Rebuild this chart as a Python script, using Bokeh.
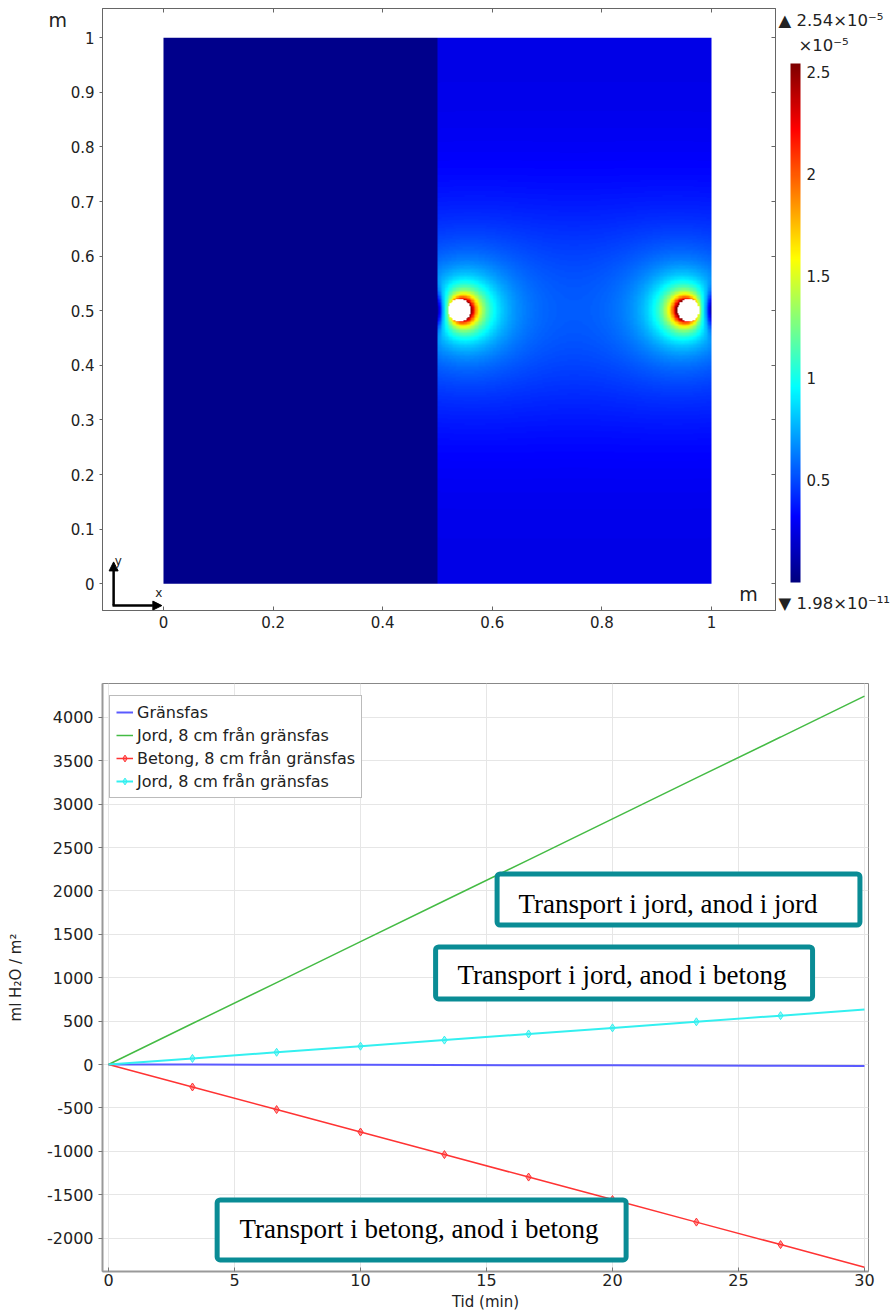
import numpy as np
from bokeh.plotting import figure
from bokeh.models import (LinearColorMapper, ColorBar, FixedTicker, CustomJSTickFormatter,
                          Label, Arrow, NormalHead, BoxAnnotation, LinearAxis, Legend, LegendItem,
                          ColumnDataSource, Range1d)
from bokeh.layouts import column
from bokeh.embed import file_html
from bokeh.resources import INLINE

# ---------------- data: field plot ----------------
interface_x = 0.5
anode_x = [0.540, 0.958]
anode_y = [0.5, 0.5]
anode_dir = [0.0, np.pi]      # side facing the other anode
anode_radius = 0.02
left_level = 0.03             # x 1e-5
right_base = 0.26
right_bump = 0.22
halo_amp = 1.8
halo_decay = 0.1
halo_asym = 0.3
cbar_min = 1.98e-11 * 1e5
cbar_max = 2.54
cbar_ticks = [0.5, 1, 1.5, 2, 2.5]
field_xticks = [0, 0.2, 0.4, 0.6, 0.8, 1]
field_yticks = [0, 0.1, 0.2, 0.3, 0.4, 0.5, 0.6, 0.7, 0.8, 0.9, 1]
cbar_max_text = "▲ 2.54×10⁻⁵"
cbar_unit_text = "×10⁻⁵"
cbar_min_text = "▼ 1.98×10⁻¹¹"

# ---------------- data: time series ----------------
time_min = [0, 3.33, 6.67, 10, 13.33, 16.67, 20, 23.33, 26.67, 30]
gransfas = [0, -1, -3, -4, -6, -8, -10, -12, -15, -18]
jord_anod_jord = [0, 472, 944, 1415, 1887, 2358, 2830, 3302, 3773, 4245]
betong_anod_betong = [0, -259, -519, -778, -1038, -1297, -1556, -1816, -2075, -2335]
jord_anod_betong = [0, 70, 141, 211, 281, 352, 422, 492, 563, 633]
series_names = ["Gränsfas", "Jord, 8 cm från gränsfas", "Betong, 8 cm från gränsfas", "Jord, 8 cm från gränsfas"]
ts_xticks = [0, 5, 10, 15, 20, 25, 30]
ts_yticks = [-2000, -1500, -1000, -500, 0, 500, 1000, 1500, 2000, 2500, 3000, 3500, 4000]
box_texts = ["Transport i jord, anod i jord", "Transport i jord, anod i betong", "Transport i betong, anod i betong"]

FONT = "DejaVu Sans"
TXT = "#222222"


def jet_palette(n=256):
    cols = []
    for i in range(n):
        t = i / (n - 1)
        r = min(max(1.5 - abs(4 * t - 3), 0), 1)
        g = min(max(1.5 - abs(4 * t - 2), 0), 1)
        b = min(max(1.5 - abs(4 * t - 1), 0), 1)
        cols.append("#%02x%02x%02x" % (int(r * 255), int(g * 255), int(b * 255)))
    return cols


# field
n = 400
xs = (np.arange(n) + 0.5) / n
ys = (np.arange(n) + 0.5) / n
X, Y = np.meshgrid(xs, ys)
V = np.full_like(X, left_level)
base = right_base + right_bump * np.exp(-((Y - 0.5) / 0.22) ** 2)
halo = np.zeros_like(X)
holes = np.zeros_like(X, dtype=bool)
for cx, cy, phi in zip(anode_x, anode_y, anode_dir):
    r = np.hypot(X - cx, Y - cy)
    th = np.arctan2(Y - cy, X - cx)
    rr = np.maximum(r, anode_radius)
    halo += halo_amp * (anode_radius / rr) * np.exp(-(rr - anode_radius) / halo_decay) * (1 + halo_asym * np.cos(th - phi))
    holes |= r < anode_radius
notch = (1 - np.exp(-np.maximum(X - interface_x, 0) / 0.012) * np.exp(-((Y - 0.5) / 0.035) ** 2)) * \
        (1 - np.exp(-np.maximum(1 - X, 0) / 0.012) * np.exp(-((Y - 0.5) / 0.035) ** 2))
right = X >= interface_x
V = np.where(right, (base + halo) * notch, V)
V = np.clip(V, cbar_min, cbar_max)
V[holes] = np.nan
V = V.astype(np.float32)

mapper = LinearColorMapper(palette=jet_palette(), low=cbar_min, high=cbar_max, nan_color="white")

p1 = figure(frame_width=673, frame_height=602, x_range=Range1d(-0.1113, 1.1168), y_range=Range1d(-0.049, 1.0536),
            output_backend="svg", toolbar_location=None,
            min_border_left=102, min_border_right=120, min_border_top=8, min_border_bottom=40)
p1.image(image=[V], x=0, y=0, dw=1, dh=1, color_mapper=mapper)
p1.grid.visible = False
p1.outline_line_color = "#666666"
fmt = CustomJSTickFormatter(code="return String(tick);")
for ax in (p1.xaxis[0], p1.yaxis[0]):
    ax.formatter = fmt
    ax.major_label_text_font = FONT
    ax.major_label_text_font_size = "15px"
    ax.major_label_text_color = TXT
    ax.axis_line_color = "#666666"
    ax.major_tick_line_color = "#666666"
    ax.minor_tick_line_color = None
p1.xaxis[0].ticker = FixedTicker(ticks=field_xticks)
p1.yaxis[0].ticker = FixedTicker(ticks=field_yticks)
p1.xaxis[0].major_tick_in = 4
p1.xaxis[0].major_tick_out = 0
p1.yaxis[0].major_tick_in = 0
p1.yaxis[0].major_tick_out = 3
for loc, ticks in (("above", field_xticks), ("right", field_yticks)):
    a = LinearAxis(ticker=FixedTicker(ticks=ticks), major_label_text_font_size="0px",
                   major_tick_in=4, major_tick_out=0, minor_tick_line_color=None,
                   axis_line_color="#666666", major_tick_line_color="#666666")
    p1.add_layout(a, loc)

cbar = ColorBar(color_mapper=mapper, ticker=FixedTicker(ticks=cbar_ticks), formatter=fmt,
                width=10, height=519, padding=0, location=(688, 28), major_tick_line_color=None,
                major_label_text_font=FONT, major_label_text_font_size="15px", major_label_text_color=TXT,
                label_standoff=6, bar_line_color=None, border_line_color=None, background_fill_alpha=0,
                orientation="vertical")
p1.add_layout(cbar, "center")


def text_host(x, y, text, size):
    # a colour bar with an invisible 1px bar, used only to carry a title outside the frame
    return ColorBar(color_mapper=mapper, ticker=FixedTicker(ticks=[]), width=1, height=1, padding=0,
                    orientation="horizontal",
                    location=(x, y), scale_alpha=0, major_tick_line_color=None, minor_tick_line_color=None,
                    major_label_text_font_size="0px", bar_line_color=None, border_line_color=None,
                    background_fill_alpha=0, title=text, title_standoff=0, title_text_font=FONT,
                    title_text_font_size=size, title_text_font_style="normal", title_text_color=TXT)


p1.add_layout(text_host(-54, 579, "m", "19px"), "center")
p1.add_layout(text_host(676, 580, cbar_max_text, "16.5px"), "center")
p1.add_layout(text_host(696, 555, cbar_unit_text, "16.5px"), "center")
p1.add_layout(text_host(676, -3, cbar_min_text, "16.5px"), "center")

lbl_kw = dict(text_font=FONT, text_color=TXT, text_baseline="middle")
p1.add_layout(Label(x=1.0675, y=-0.018, text="m", text_font_size="19px", text_align="center", **lbl_kw))
p1.add_layout(Arrow(end=NormalHead(size=9, fill_color="black", line_color="black"),
                    x_start=-0.091, y_start=-0.040, x_end=-0.091, y_end=0.040, line_width=2.5, line_color="black"))
p1.add_layout(Arrow(end=NormalHead(size=9, fill_color="black", line_color="black"),
                    x_start=-0.093, y_start=-0.040, x_end=-0.003, y_end=-0.040, line_width=2.5, line_color="black"))
p1.add_layout(Label(x=-0.089, y=0.042, text="y", text_font_size="12px", text_align="left", **lbl_kw))
p1.add_layout(Label(x=-0.015, y=-0.017, text="x", text_font_size="12px", text_align="left", **lbl_kw))

# ---------------- time series plot ----------------
p2 = figure(frame_width=766, frame_height=588, x_range=Range1d(-0.24, 30.16), y_range=Range1d(-2385, 4390),
            output_backend="svg", toolbar_location=None,
            min_border_left=102, min_border_right=27, min_border_top=33, min_border_bottom=40)
src = ColumnDataSource(dict(t=time_min, g=gransfas, jj=jord_anod_jord, bb=betong_anod_betong, jb=jord_anod_betong))
msrc = ColumnDataSource(dict(t=time_min[1:-1], bb=betong_anod_betong[1:-1], jb=jord_anod_betong[1:-1]))

r_g = p2.line("t", "g", source=src, line_color="#5a5aff", line_width=2)
r_jj = p2.line("t", "jj", source=src, line_color="#44bb44", line_width=1.5)
r_bb = p2.line("t", "bb", source=src, line_color="#ff3333", line_width=1.5)
m_bb = p2.scatter("t", "bb", source=msrc, marker="diamond", size=8, fill_color="#ff3333", fill_alpha=0.5,
                  line_color="#ff3333")
r_jb = p2.line("t", "jb", source=src, line_color="#33f0f0", line_width=2)
m_jb = p2.scatter("t", "jb", source=msrc, marker="diamond", size=8, fill_color="#33f0f0", fill_alpha=0.5,
                  line_color="#33f0f0")

legend = Legend(items=[LegendItem(label=series_names[0], renderers=[r_g]),
                       LegendItem(label=series_names[1], renderers=[r_jj]),
                       LegendItem(label=series_names[2], renderers=[r_bb, m_bb]),
                       LegendItem(label=series_names[3], renderers=[r_jb, m_jb])],
                location=(7, 473), label_text_font=FONT, label_text_font_size="16px", label_text_color=TXT,
                glyph_width=17, glyph_height=20, label_height=20, spacing=3, label_standoff=4,
                padding=6, margin=0, border_line_color="#777777", border_line_width=1.5,
                background_fill_color="white", background_fill_alpha=1)
p2.add_layout(legend, "center")

p2.xaxis.ticker = FixedTicker(ticks=ts_xticks)
p2.yaxis.ticker = FixedTicker(ticks=ts_yticks)
p2.grid.grid_line_color = "#e6e6e6"
p2.outline_line_color = "#888888"
for ax in (p2.xaxis[0], p2.yaxis[0]):
    ax.formatter = fmt
    ax.major_label_text_font = FONT
    ax.major_label_text_font_size = "16px"
    ax.major_label_text_color = TXT
    ax.axis_label_text_font = FONT
    ax.axis_label_text_font_size = "15px"
    ax.axis_label_text_font_style = "normal"
    ax.axis_label_text_color = TXT
    ax.axis_line_color = "#999999"
    ax.axis_line_width = 2
    ax.major_tick_line_color = "#777777"
    ax.minor_tick_line_color = None
p2.xaxis[0].axis_label = "Tid (min)"
p2.yaxis[0].axis_label = "ml H₂O / m²"
p2.xaxis[0].major_tick_in = 4
p2.xaxis[0].major_tick_out = 0
p2.xaxis[0].major_label_standoff = 2
p2.xaxis[0].axis_label_standoff = 4
p2.yaxis[0].major_tick_in = 0
p2.yaxis[0].major_tick_out = 4
p2.yaxis[0].axis_label_standoff = 19

teal = "#0a8c95"
boxes = [(15.42, 29.82, 2195, 1607), (12.98, 27.94, 1354, 755), (4.31, 20.54, -1561, -2252)]
text_pos = [(16.27, 1845), (13.85, 1027), (5.20, -1900)]
for (l, r, t, b), (tx, ty), txt in zip(boxes, text_pos, box_texts):
    p2.add_layout(BoxAnnotation(left=l, right=r, top=t, bottom=b, fill_color="white", fill_alpha=1,
                                line_color=teal, line_width=5, line_alpha=1, border_radius=3))
    p2.add_layout(Label(x=tx, y=ty, text=txt, text_font="Liberation Serif", text_font_size="27px",
                        text_color="black", text_baseline="alphabetic"))

layout = column(p1, p2, spacing=0)
open("out.html", "w").write(file_html(layout, INLINE))
